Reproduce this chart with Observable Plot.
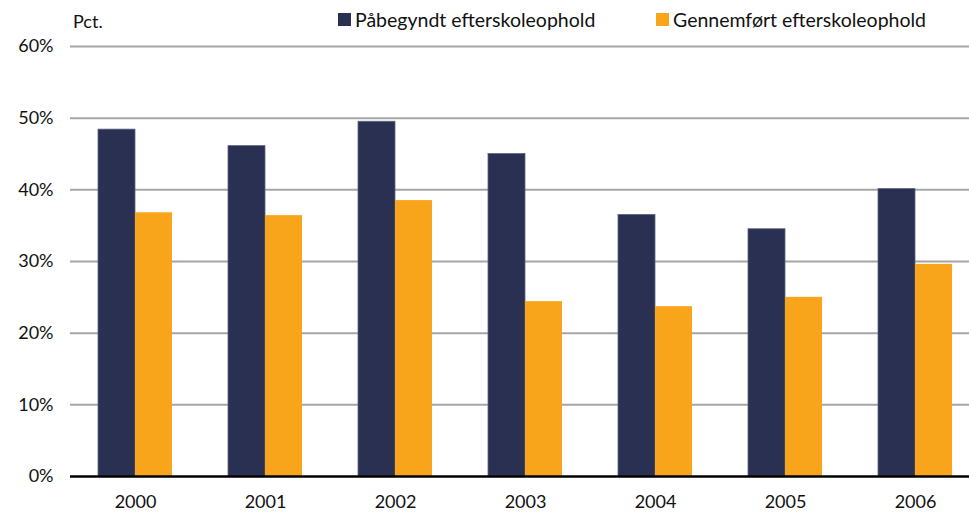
<!DOCTYPE html>
<html>
<head>
<meta charset="utf-8">
<script src="https://cdn.jsdelivr.net/npm/d3@7"></script>
<script src="https://cdn.jsdelivr.net/npm/@observablehq/plot@0.6"></script>
<style>
  html, body { margin: 0; padding: 0; background: #fff; overflow: hidden; }
  #wrap { position: relative; width: 969px; height: 512px; overflow: hidden; font-family: Lato, "Open Sans", sans-serif; }
  #pct { position: absolute; left: 73px; top: 10px; font-size: 18px; color: #111; }
  .leg { position: absolute; top: 8px; font-size: 19.5px; color: #111; display: flex; align-items: center; white-space: nowrap; }
  .sw { width: 13px; height: 13px; margin-right: 4px; display: inline-block; }
  #chart { position: absolute; left: 0; top: 0; }
</style>
</head>
<body>
<div id="wrap">
  <div id="chart"></div>
  <div id="pct">Pct.</div>
  <div id="legend"></div>
</div>
<script>
const years = ["2000", "2001", "2002", "2003", "2004", "2005", "2006"];
const started = [48.4, 46.1, 49.5, 45.0, 36.5, 34.5, 40.1];
const completed = [36.8, 36.4, 38.5, 24.4, 23.7, 25.0, 29.6];
const seriesNames = ["Påbegyndt efterskoleophold", "Gennemført efterskoleophold"];
const seriesColors = ["#2a3052", "#f9a51c"];
const yTicks = [0, 10, 20, 30, 40, 50, 60];

const rows = [];
years.forEach((yr, i) => {
  rows.push({year: yr, series: seriesNames[0], value: started[i]});
  rows.push({year: yr, series: seriesNames[1], value: completed[i]});
});

const chart = Plot.plot({
  width: 969,
  height: 512,
  marginTop: 46,
  marginBottom: 36,
  marginLeft: 69,
  marginRight: -11,
  style: {fontFamily: "Lato, 'Open Sans', sans-serif", fontSize: "18px", color: "#111", background: "transparent", overflow: "hidden"},
  fx: {domain: years, padding: 0, label: null, tickSize: 0, tickPadding: 19},
  x: {domain: seriesNames, paddingInner: 0, paddingOuter: 0.736, axis: null},
  y: {domain: [0, 60], ticks: yTicks, tickFormat: d => d + "%", label: null, tickSize: 0, tickPadding: 17},
  color: {domain: seriesNames, range: seriesColors},
  marks: [
    Plot.ruleY(yTicks.filter(d => d > 0), {stroke: "#a6a6a6", strokeWidth: 2}),
    Plot.barY(rows, {fx: "year", x: "series", y: "value", fill: "series",
      stroke: d => d.series === seriesNames[0] ? "#5d6585" : "none", strokeWidth: 0.8}),
    Plot.ruleY([0], {stroke: "#000", strokeWidth: 2.5})
  ]
});
document.getElementById("chart").appendChild(chart);

const legend = document.getElementById("legend");
const legendLefts = [338, 656];
seriesNames.forEach((name, i) => {
  const item = document.createElement("div");
  item.className = "leg";
  item.style.left = legendLefts[i] + "px";
  const sw = document.createElement("span");
  sw.className = "sw";
  sw.style.background = seriesColors[i];
  item.appendChild(sw);
  item.appendChild(document.createTextNode(name));
  legend.appendChild(item);
});
</script>
</body>
</html>
